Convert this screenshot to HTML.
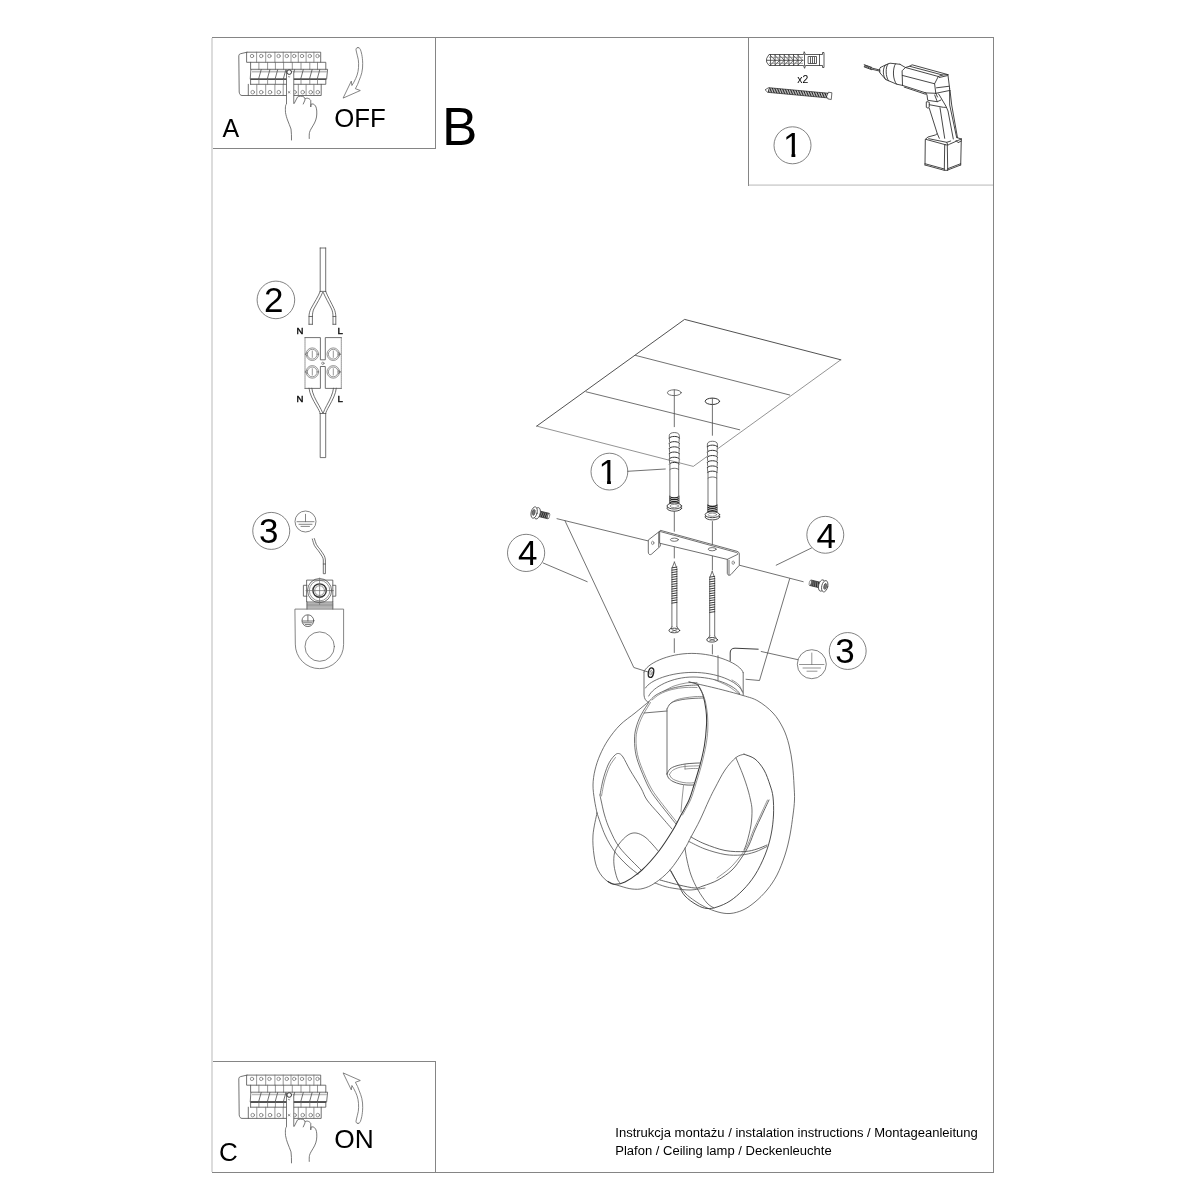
<!DOCTYPE html>
<html><head><meta charset="utf-8"><title>Instrukcja monta&#380;u</title>
<style>
html,body{margin:0;padding:0;background:#fff;}
body{width:1200px;height:1200px;overflow:hidden;font-family:"Liberation Sans",sans-serif;}
svg{display:block;position:absolute;left:0;top:0;will-change:transform;}
svg text{font-family:"Liberation Sans",sans-serif;fill:#000;}
.f{fill:none;stroke:#858585;stroke-width:1;shape-rendering:crispEdges;}
.l{fill:none;stroke:#4e4e4e;stroke-width:0.8;stroke-linecap:round;stroke-linejoin:round;}
.t{fill:none;stroke:#6a6a6a;stroke-width:0.7;stroke-linecap:round;stroke-linejoin:round;}
.k{fill:none;stroke:#222;stroke-width:1.1;stroke-linecap:round;stroke-linejoin:round;}
.w{fill:#fff;stroke:#4a4a4a;stroke-width:0.8;stroke-linecap:round;stroke-linejoin:round;}
.c{fill:none;stroke:#6c6c6c;stroke-width:0.85;}
</style></head><body>
<svg width="1200" height="1200" viewBox="0 0 1200 1200">
<!-- 00_frame.svg -->
<g class="f" stroke="#858585">
<path d="M212 37.5H993.500V1172.500H212"/>
<path d="M212.5 148.5H435.5V37.5"/>
<path d="M748.5 37.5V185.500"/>
<path d="M212.5 1061.500H435.5V1172.5"/>
</g>
<g fill="none" stroke="#d6d6d6" stroke-width="1.700">
<path d="M212 37.900V1172.100"/>
<path d="M748.900 185.050H993"/>
</g>
<g>
<text x="441.900" y="145.200" font-size="53">B</text>
<text x="222.600" y="136.750" font-size="25">A</text>
<text x="334.300" y="126.550" font-size="25.800">OFF</text>
<text x="218.900" y="1160.900" font-size="26">C</text>
<text x="334.300" y="1148.450" font-size="26.300">ON</text>
<text x="615.300" y="1136.900" font-size="13.030">Instrukcja montażu / instalation instructions / Montageanleitung</text>
<text x="615.300" y="1154.700" font-size="13.030">Plafon / Ceiling lamp / Deckenleuchte</text>
</g>

<!-- 05_digits.svg -->
<g class="c" stroke="#777" stroke-width="0.9">
<circle cx="792.50" cy="145.30" r="18.50"/>
<circle cx="275.90" cy="299.90" r="18.80"/>
<circle cx="271.25" cy="530.90" r="18.50"/>
<circle cx="609.40" cy="471.60" r="18.40"/>
<circle cx="526.10" cy="552.90" r="18.60"/>
<circle cx="825.30" cy="534.80" r="18.45"/>
<circle cx="847.70" cy="651.00" r="18.45"/>
</g>
<g font-size="35">
<text x="783.00" y="156.90">1</text>
<text x="264.10" y="311.90">2</text>
<text x="258.90" y="543.00">3</text>
<text x="598.60" y="484.00">1</text>
<text x="518.00" y="565.00">4</text>
<text x="816.60" y="547.50">4</text>
<text x="835.20" y="663.30">3</text>
</g>
<g fill="#fff" stroke="none"><!-- hide the serif foot of digit one so it matches the plain sans one of the original -->
<rect x="783.45" y="153.93" width="8.00" height="5"/>
<rect x="795.32" y="153.93" width="7.50" height="5"/>
<rect x="599.05" y="481.02" width="8.00" height="5"/>
<rect x="610.92" y="481.02" width="7.50" height="5"/>
</g>

<!-- 10_boxA.svg -->
<g>
<path class="l" d="M247.0 52.2H320.7V62.3H247.0Z"/>
<path class="t" d="M256.6 52.2V62.3M265.7 52.2V62.3M274.9 52.2V62.3M283.2 52.2V62.3M291.0 52.2V62.3M298.3 52.2V62.3M306.1 52.2V62.3M313.9 52.2V62.3"/>
<circle class="t" cx="252.0" cy="56" r="1.7"/>
<circle class="t" cx="261.2" cy="56" r="1.7"/>
<circle class="t" cx="269.4" cy="56" r="1.7"/>
<circle class="t" cx="278.6" cy="56" r="1.7"/>
<circle class="t" cx="286.8" cy="56" r="1.7"/>
<circle class="t" cx="294.2" cy="56" r="1.7"/>
<circle class="t" cx="302.0" cy="56" r="1.7"/>
<circle class="t" cx="309.8" cy="56" r="1.7"/>
<circle class="t" cx="317.5" cy="56" r="1.7"/>
<path class="l" d="M247 52.2L240.6 53.7Q238.8 54.2 238.8 55.800L239.200 92C239.400 94.300 240.500 95.500 242 95.500H248.300"/>
<path class="l" d="M250.6 62.3V69.3M320.7 62.3H325.8V69.3"/>
<path class="t" d="M258.9 62.3V69.3M267.6 62.3V69.3M275.4 62.3V69.3M283.6 62.3V69.3M292.3 62.3V69.3M301.0 62.3V69.3M309.8 62.3V69.3M317.5 62.3V69.3"/>
<path class="l" d="M251.3 69.3H327.6L326.6 79.2H250.6Z"/>
<path d="M252 71.6H327" stroke="#bbb" stroke-width="1.6" fill="none"/>
<path d="M250.6 79.1H326" stroke="#333" stroke-width="1.3" fill="none"/>
<path class="l" d="M258.6 79L261.2 69.6M267.3 79L269.9 69.6M275.1 79L277.7 69.6M283.3 79L285.9 69.6M292.0 79L294.6 69.6M300.7 79L303.3 69.6M309.5 79L312.1 69.6M317.2 79L319.8 69.6"/>
<path class="l" d="M250.6 79.2V84.3M325.8 79.2V84.3H250.6"/>
<path class="t" d="M258.9 79.2V84.3M267.6 79.2V84.3M275.4 79.2V84.3M283.6 79.2V84.3M292.3 79.2V84.3M301.0 79.2V84.3M309.8 79.2V84.3M317.5 79.2V84.3"/>
<path class="l" d="M248.3 84.3V95.5H321.2V84.3"/>
<path class="t" d="M256.8 84.3V95.5M265.7 84.3V95.5M274.9 84.3V95.5M283.2 84.3V95.5M291.0 84.3V95.5M298.3 84.3V95.5M306.1 84.3V95.5M313.9 84.3V95.5"/>
<circle class="t" cx="252.7" cy="92.2" r="1.8"/>
<circle class="t" cx="261.2" cy="92.2" r="1.8"/>
<circle class="t" cx="270.0" cy="92.2" r="1.8"/>
<circle class="t" cx="278.8" cy="92.2" r="1.8"/>
<circle class="t" cx="294.6" cy="92.2" r="1.8"/>
<circle class="t" cx="302.7" cy="92.2" r="1.8"/>
<circle class="t" cx="310.7" cy="92.2" r="1.8"/>
<circle class="t" cx="317.8" cy="92.2" r="1.8"/>
<path fill="#fff" stroke="none" d="M286.5 70.5V104C285.3 104.5 285.3 108 285.5 112.5C286 115.5 286.8 118 287.5 120C288.6 123 290 126 291 129C291.5 132.5 291.5 136.5 291.5 140L309.25 138.5C309.2 136 309.2 134 309.5 132.5C310 131 310.4 130 311 129C312.3 126.7 313.5 125 314.5 123C315.5 121 316.2 119 316.5 117C316.8 115 316.9 113 316.75 111C316.6 109.5 316.4 108 316 107C315.2 105.2 314.2 104.3 313 104C312.2 103.9 311.5 104 311 104.25L310.75 107V100.5C310.2 99.4 309 98.5 307.5 98.25C306.7 98.2 306 98.3 305.5 98.5L305 100C305 98.5 304.6 97.5 304 97C302 95.8 299 96 297.5 97L294.2 103.5H293.75V72Z"/>
<path style="stroke:#555" class="l" d="M286.5 70.5V104C285.3 104.5 285.3 108 285.5 112.5C286 115.5 286.8 118 287.5 120C288.6 123 290 126 291 129C291.5 132.5 291.5 136.5 291.5 140M309.25 138.5C309.2 136 309.2 134 309.5 132.5C310 131 310.4 130 311 129C312.3 126.7 313.5 125 314.5 123C315.5 121 316.2 119 316.5 117C316.8 115 316.9 113 316.75 111C316.6 109.5 316.4 108 316 107C315.2 105.2 314.2 104.3 313 104C312.2 103.9 311.5 104 311 104.25L310.75 107V100.5C310.2 99.4 309 98.5 307.5 98.25C306.7 98.2 306 98.3 305.5 98.5M303.25 104L305 100C305 98.5 304.6 97.5 304 97C302 95.8 299 96 297.5 97L294.2 103.5H293.75V72"/>
<circle cx="289.2" cy="72.1" r="2.3" fill="#fff" stroke="#333" stroke-width="1"/>
<path class="t" d="M288.3 76.5L289.1 77.2L289.9 76.5M288.2 91.500L290 93M290 91.500L288.200 93"/>
<path style="stroke:#666" class="l" d="M358 47.6C356.6 47.6 355.8 48.5 356 49.9C356.4 52 357 54 357.4 55.8C358.2 58.5 358.6 61 358.6 63.3C358.7 66.500 358.500 69 358 71.500C357.500 74 356.800 76.400 355.700 78.500C354.600 81 353.200 83.500 351.900 85.500L351.300 81.100L343.100 98.100L360.300 90.500L355.400 88.700C357 86 358.300 83 359.200 80.300C360.300 77.500 361.300 75 361.800 72.700C362.500 69.500 362.800 66.500 362.700 63.300C362.600 60 362.300 57 361.800 54.600C361.400 52.500 360.900 50.800 360.300 49.300C359.800 48.200 359 47.600 358 47.600Z"/>
</g>

<!-- 11_boxC.svg -->
<g transform="translate(0 1022.900)">
<path class="l" d="M247.0 52.2H320.7V62.3H247.0Z"/>
<path class="t" d="M256.6 52.2V62.3M265.7 52.2V62.3M274.9 52.2V62.3M283.2 52.2V62.3M291.0 52.2V62.3M298.3 52.2V62.3M306.1 52.2V62.3M313.9 52.2V62.3"/>
<circle class="t" cx="252.0" cy="56" r="1.7"/>
<circle class="t" cx="261.2" cy="56" r="1.7"/>
<circle class="t" cx="269.4" cy="56" r="1.7"/>
<circle class="t" cx="278.6" cy="56" r="1.7"/>
<circle class="t" cx="286.8" cy="56" r="1.7"/>
<circle class="t" cx="294.2" cy="56" r="1.7"/>
<circle class="t" cx="302.0" cy="56" r="1.7"/>
<circle class="t" cx="309.8" cy="56" r="1.7"/>
<circle class="t" cx="317.5" cy="56" r="1.7"/>
<path class="l" d="M247 52.2L240.6 53.7Q238.8 54.2 238.8 55.800L239.200 92C239.400 94.300 240.500 95.500 242 95.500H248.300"/>
<path class="l" d="M250.6 62.3V69.3M320.7 62.3H325.8V69.3"/>
<path class="t" d="M258.9 62.3V69.3M267.6 62.3V69.3M275.4 62.3V69.3M283.6 62.3V69.3M292.3 62.3V69.3M301.0 62.3V69.3M309.8 62.3V69.3M317.5 62.3V69.3"/>
<path class="l" d="M251.3 69.3H327.6L326.6 79.2H250.6Z"/>
<path d="M252 71.6H327" stroke="#bbb" stroke-width="1.6" fill="none"/>
<path d="M250.6 79.1H326" stroke="#333" stroke-width="1.3" fill="none"/>
<path class="l" d="M258.6 79L261.2 69.6M267.3 79L269.9 69.6M275.1 79L277.7 69.6M283.3 79L285.9 69.6M292.0 79L294.6 69.6M300.7 79L303.3 69.6M309.5 79L312.1 69.6M317.2 79L319.8 69.6"/>
<path class="l" d="M250.6 79.2V84.3M325.8 79.2V84.3H250.6"/>
<path class="t" d="M258.9 79.2V84.3M267.6 79.2V84.3M275.4 79.2V84.3M283.6 79.2V84.3M292.3 79.2V84.3M301.0 79.2V84.3M309.8 79.2V84.3M317.5 79.2V84.3"/>
<path class="l" d="M248.3 84.3V95.5H321.2V84.3"/>
<path class="t" d="M256.8 84.3V95.5M265.7 84.3V95.5M274.9 84.3V95.5M283.2 84.3V95.5M291.0 84.3V95.5M298.3 84.3V95.5M306.1 84.3V95.5M313.9 84.3V95.5"/>
<circle class="t" cx="252.7" cy="92.2" r="1.8"/>
<circle class="t" cx="261.2" cy="92.2" r="1.8"/>
<circle class="t" cx="270.0" cy="92.2" r="1.8"/>
<circle class="t" cx="278.8" cy="92.2" r="1.8"/>
<circle class="t" cx="294.6" cy="92.2" r="1.8"/>
<circle class="t" cx="302.7" cy="92.2" r="1.8"/>
<circle class="t" cx="310.7" cy="92.2" r="1.8"/>
<circle class="t" cx="317.8" cy="92.2" r="1.8"/>
<path fill="#fff" stroke="none" d="M286.5 70.5V104C285.3 104.5 285.3 108 285.5 112.5C286 115.5 286.8 118 287.5 120C288.6 123 290 126 291 129C291.5 132.5 291.5 136.5 291.5 140L309.25 138.5C309.2 136 309.2 134 309.5 132.5C310 131 310.4 130 311 129C312.3 126.7 313.5 125 314.5 123C315.5 121 316.2 119 316.5 117C316.8 115 316.9 113 316.75 111C316.6 109.5 316.4 108 316 107C315.2 105.2 314.2 104.3 313 104C312.2 103.9 311.5 104 311 104.25L310.75 107V100.5C310.2 99.4 309 98.5 307.5 98.25C306.7 98.2 306 98.3 305.5 98.5L305 100C305 98.5 304.6 97.5 304 97C302 95.8 299 96 297.5 97L294.2 103.5H293.75V72Z"/>
<path style="stroke:#555" class="l" d="M286.5 70.5V104C285.3 104.5 285.3 108 285.5 112.5C286 115.5 286.8 118 287.5 120C288.6 123 290 126 291 129C291.5 132.5 291.5 136.5 291.5 140M309.25 138.5C309.2 136 309.2 134 309.5 132.5C310 131 310.4 130 311 129C312.3 126.7 313.5 125 314.5 123C315.5 121 316.2 119 316.5 117C316.8 115 316.9 113 316.75 111C316.6 109.5 316.4 108 316 107C315.2 105.2 314.2 104.3 313 104C312.2 103.9 311.5 104 311 104.25L310.75 107V100.5C310.2 99.4 309 98.5 307.5 98.25C306.7 98.2 306 98.3 305.5 98.5M303.25 104L305 100C305 98.5 304.6 97.5 304 97C302 95.8 299 96 297.5 97L294.2 103.5H293.75V72"/>
<circle cx="289.2" cy="72.1" r="2.3" fill="#fff" stroke="#333" stroke-width="1"/>
<path class="t" d="M288.3 76.5L289.1 77.2L289.9 76.5M288.2 91.500L290 93M290 91.500L288.200 93"/>
</g>
<g transform="translate(0 1171) scale(1 -1)"><path style="stroke:#666" class="l" d="M358 47.6C356.6 47.6 355.8 48.5 356 49.9C356.4 52 357 54 357.4 55.8C358.2 58.5 358.6 61 358.6 63.3C358.7 66.500 358.500 69 358 71.500C357.500 74 356.800 76.400 355.700 78.500C354.600 81 353.200 83.500 351.900 85.500L351.300 81.100L343.100 98.100L360.300 90.500L355.400 88.700C357 86 358.300 83 359.200 80.300C360.300 77.500 361.300 75 361.800 72.700C362.500 69.500 362.800 66.500 362.700 63.300C362.600 60 362.300 57 361.800 54.600C361.400 52.500 360.900 50.800 360.300 49.300C359.800 48.200 359 47.600 358 47.600Z"/></g>

<!-- 20_box1.svg -->
<g>
<path style="stroke:#333;stroke-width:0.9" class="k" d="M864.2 64.7L871.7 67.4M864.2 66.9L871.7 69.7M871.7 68L880 70.1M871.7 69.2L880 71.2M880.4 67.5C879 69 879 71.5 880 72.900M880.4 67.5L885 65.2L890 63.200L900 64.300M880 72.900L885.800 79.600L896.700 84.200L902.500 85.400M885.5 65C882.500 68 882.500 76 885.800 79.600M888 63.800C885.400 67 885.400 76.500 888.500 80.800M895.5 63.800C892.500 68 892.500 80 896.700 84.200M900 64.300L905.400 67.500L902.100 70.800L902.500 85.400M905.400 67.500L909.600 66.250L912.100 64.800L947.900 74.600M909.600 66.250L942.500 75M905.400 67.500L938.300 76.500M902.300 75.400L934.600 83.750M902.500 85.400L925.800 92.900M904.200 87.100L925.400 94.200M938.300 76.500L942.500 75L947.900 74.600M938.300 76.500L934.600 83.750L935.800 93.300M939.300 77.500L947.500 75.600M947.900 74.600L949.600 88.300M935.800 93.300L950 90.400M936.500 87.800L949.200 86.250M925.800 92.900L935.800 93.300M925.800 92.900L927 95L927.700 100.300L937.300 101.700L941 100M934.700 95L937.300 101.700M935.800 93.300L937.500 97M938.300 93.750L939.300 95L946 106.300L948 111L953.300 139M929.300 104.700L943.300 107.300L946 107.300M926.3 102.3V107.3L928 108.2L929.2 107.3L929.3 102.3L927.300 101.700ZM929.300 108.300L937.300 133.700L935.300 135L928 137L925.700 139M940 107.700L944.700 138.300M949.600 88.300L949.700 105L956.700 137.700M950 90.400L951.700 105L957.500 137.700M937.300 133.700L939.300 138.300M925.700 139.300L945.300 144.700M945.300 144.700C947 145.200 948.500 145 949.300 144.300L961.300 139M957.300 137.700L961.300 139M928.700 138.700L946.700 142.300L950.700 141M946.700 142.300L947.800 144.800M956 140.300L958 142.700L961.300 141M925.300 139.700L925 165M944.700 145L944.300 170.300M947.300 145L947.700 170M961.300 139L960.700 165M925 163.700L944.300 169M925 165L944.300 170.300H947.700M947.700 168.700L960.700 163.700M947.700 170L960.700 165"/>
<path d="M864.4 65.7L871.4 68.4" stroke="#444" stroke-width="2.300" stroke-dasharray="1.500 0.500" fill="none"/>
<path style="stroke:#333;stroke-width:0.8" class="k" d="M766.8 58.2L769 54.5H803.5L804.2 51.7L805.500 54.500H822.500V52.500H824V67.500H822.500V65.500H805.500L804.600 68.300L803.500 65.500H769L766.800 62.300ZM766.800 60.300H803M804.500 54.500V65.500M819.500 54.500V65.500M808.500 56.500H816.500V63.500H808.500ZM810.500 57.500V63M812.500 57.500V63M814.500 57.500V63"/>
<path style="stroke:#3a3a3a;stroke-width:0.75" class="k" d="M770.5 54.5V65.5M770.5 55.500L775.1 60.300L770.5 65M775.1 54.5V65.5M775.1 55.500L779.7 60.300L775.1 65M779.7 54.5V65.5M779.7 55.500L784.3 60.300L779.7 65M784.3 54.5V65.5M784.3 55.500L788.9 60.300L784.3 65M788.9 54.5V65.5M788.9 55.500L793.5 60.300L788.9 65M793.5 54.5V65.5M793.5 55.500L798.1 60.300L793.5 65M798.1 54.5V65.5M798.1 55.500L802.7 60.300L798.1 65"/>
<path d="M769 57.300H803M769 63.300H803" stroke="#777" stroke-width="0.7" fill="none"/>
<text x="797.300" y="82.600" font-size="10.4">x2</text>
<g transform="translate(765.4 89.600) rotate(5.300)"><path style="stroke:#333;stroke-width:0.7" class="k" d="M0 0L3 -2.2H63V-3.2L66.500 -3V3.800L63 3.500V2.500H3Z"/><path d="M3.0 2.6L3.9 -2.3M4.6 2.6L5.5 -2.3M6.2 2.6L7.1 -2.3M7.9 2.6L8.8 -2.3M9.5 2.6L10.4 -2.3M11.1 2.6L12.0 -2.3M12.7 2.6L13.6 -2.3M14.3 2.6L15.2 -2.3M16.0 2.6L16.9 -2.3M17.6 2.6L18.5 -2.3M19.2 2.6L20.1 -2.3M20.8 2.6L21.7 -2.3M22.4 2.6L23.3 -2.3M24.1 2.6L25.0 -2.3M25.7 2.6L26.6 -2.3M27.3 2.6L28.2 -2.3M28.9 2.6L29.8 -2.3M30.5 2.6L31.4 -2.3M32.2 2.6L33.1 -2.3M33.8 2.6L34.7 -2.3M35.4 2.6L36.3 -2.3M37.0 2.6L37.9 -2.3M38.6 2.6L39.5 -2.3M40.3 2.6L41.2 -2.3M41.9 2.6L42.8 -2.3M43.5 2.6L44.4 -2.3M45.1 2.6L46.0 -2.3M46.7 2.6L47.6 -2.3M48.4 2.6L49.3 -2.3M50.0 2.6L50.9 -2.3M51.6 2.6L52.5 -2.3M53.2 2.6L54.1 -2.3M54.8 2.6L55.7 -2.3M56.5 2.6L57.4 -2.3M58.1 2.6L59.0 -2.3M59.7 2.6L60.6 -2.3M61.3 2.6L62.2 -2.3" stroke="#222" stroke-width="0.95" fill="none"/></g>
</g>

<!-- 30_sec2.svg -->
<g>
<!-- top cable -->
<path class="l" d="M320.2 248V291.400M325.700 248V291.400M320.200 248H325.700"/>
<path class="l" d="M320.2 291.4H325.7"/>
<path class="l" d="M320.2 291.4C318.500 296 314 303 311 308.500C309.500 311.500 309 314 309 317V324.300M322.600 292.500C320.800 297 316.500 304 313.800 309C312.700 311.500 312.400 314 312.400 317V324.300M309 324.300H312.400M309 316.500H312.400"/>
<path class="l" d="M325.700 291.400C327.400 296 331.500 303 334 308.500C335.300 311.500 335.800 314 335.800 317V324.300M323.300 292.500C325.100 297 329.200 304 331.600 309C332.700 311.500 333 314 333 317V324.300M333 324.300H335.800M333 316.500H335.800"/>
<!-- terminal block -->
<path class="l" d="M305 337.600H320.400V359.800H325.300V337.600H341.300M341.300 388.400H325.300V366.500H320.400V388.400H305"/>
<path style="stroke-dasharray:1.2 0.8" class="t" d="M305 337.600V388.400M341.300 337.600V388.400"/>
<circle class="t" cx="322.850" cy="363.300" r="1.200"/>
<g class="t" stroke="#555">
<circle cx="312.300" cy="354.200" r="6.300"/><circle cx="312.300" cy="354.200" r="4.900"/><path d="M312.300 351V357.400"/>
<circle cx="333.300" cy="354.200" r="6.300"/><circle cx="333.300" cy="354.200" r="4.900"/><path d="M333.300 351V357.400"/>
<circle cx="312.300" cy="371.900" r="6.300"/><circle cx="312.300" cy="371.900" r="4.900"/><path d="M312.300 368.700V375.100"/>
<circle cx="333.300" cy="371.900" r="6.300"/><circle cx="333.300" cy="371.900" r="4.900"/><path d="M333.300 368.700V375.100"/>
</g>
<path class="t" d="M305.200 354.200L307.500 352.500M305.200 354.200L307.500 356M340.600 354.200L338.300 352.500M340.600 354.200L338.300 356M305.200 371.900L307.500 370.200M305.200 371.900L307.500 373.600M340.600 371.900L338.300 370.200M340.600 371.900L338.300 373.600"/>
<!-- bottom wires -->
<path class="l" d="M309 388.200C309.500 394 313 400 316.500 406C318.500 409.500 320 412 320.200 413.500M311.800 388.200C312.300 393.500 315.500 399.500 319 405.500C320.500 408.200 322 411 322.700 412.800M336.300 388.200C335.800 394 332.500 400 329.200 406C327.200 409.500 325.900 412 325.700 413.500M333.500 388.200C333 393.500 330 399.500 326.700 405.500C325.200 408.200 323.900 411 323.300 412.800"/>
<path class="l" d="M320.200 413.500H325.700M320.200 413.500V457.600H325.700V413.500"/>
<g font-size="9.600" style="fill:#1a1a1a;stroke:#1a1a1a;stroke-width:0.45">
<text x="296.500" y="334.300">N</text>
<text x="337.400" y="334.300">L</text>
<text x="296.500" y="401.800">N</text>
<text x="337.400" y="401.800">L</text>
</g>
</g>

<!-- 31_sec3.svg -->
<g>
<!-- ground symbol -->
<circle class="c" cx="305.500" cy="521.500" r="10.500"/>
<path style="stroke:#666" class="l" d="M305.500 514.300V521.700M297 521.700H314M299 524.300H312M301 526.400H309.500"/>
<!-- wire -->
<path class="l" d="M312.300 539C313 541.500 313.600 543.500 314.300 545.300C315.500 547.500 316.900 549 318.300 550.700C319.800 552.800 321.200 554.800 322.300 556.700C322.900 557.800 323.300 559 323.300 560V573.700H325.400V560C325.300 558.500 324.900 557 324.300 555.700C323.200 553.800 321.800 551.800 320.300 549.700C318.900 548 317.500 546.500 316.300 544.300C315.600 542.500 315 540.500 314.300 538.500"/>
<path class="l" d="M323.300 564H325.400"/>
<!-- terminal -->
<rect class="l" x="307" y="580.100" width="25.800" height="21.900"/>
<path class="l" d="M307 585.300H303.400V596.200H307M332.800 585.300H335.800V596.200H332.800"/>
<circle class="l" cx="319.600" cy="590.600" r="12.100"/>
<circle class="t" cx="319.600" cy="590.600" r="10.300"/>
<circle cx="319.600" cy="590.600" r="6.700" fill="none" stroke="#333" stroke-width="1.400"/>
<circle class="t" cx="319.600" cy="590.600" r="4.900"/>
<path class="t" d="M319.600 578V604.500M306 590.600H333.500"/>
<path class="l" d="M307 602V609.100M332.800 602V609.100"/>
<path class="t" d="M307 603.200H332.800M307 604.400H332.800M307 605.600H332.800M307 606.800H332.800M307 608H332.800"/>
<!-- body -->
<path style="stroke:#666;stroke-width:0.8" class="t" d="M295.300 609.100H343.600V644.500A24.150 24.150 0 0 1 295.300 644.500Z"/>
<circle style="stroke:#666;stroke-width:0.8" class="t" cx="319.700" cy="646.600" r="14.700"/>
<circle class="l" cx="307.900" cy="620.700" r="5.900"/>
<path class="l" d="M307.900 615.500V621M302.300 621H313.500M303.500 622.800H312.300M305.300 624.600H310.500"/>
</g>

<!-- 40_main.svg -->
<g>
<path style="stroke:#484848;stroke-width:0.95" class="l" d="M536.7 426.1L684.6 319.400L840.800 359.800"/>
<path style="stroke:#707070;stroke-width:0.75" class="t" d="M840.800 359.800L717.800 448.700M707 456.500L693.300 466.400L536.700 426.100"/>
<path class="l" d="M635.500 355.400L789.700 395M586.100 391.800L739.700 429.800"/>
<ellipse class="l" cx="674.300" cy="392.700" rx="6.900" ry="2.900"/>
<ellipse style="stroke:#333;stroke-width:1" class="k" cx="712.400" cy="401.300" rx="7.200" ry="3.200"/>
<path class="l" d="M674.300 389.800V426.700M712.400 398.300V435.300M674.300 511.300V531.300M674.300 540V558M674.300 638.700V652.500M712.400 521.500V546.700M712.400 549.500V570M712.400 644.700V654"/>
<path class="l" d="M669.3 438.0V435.4C669.3 431.6 679.3 431.6 679.3 435.4V438.0"/>
<path class="l" d="M669.3 438.0L669.6 442.0M679.3 438.0L679.0 442.0"/>
<path style="stroke:#333;stroke-width:1" class="k" d="M669.3 438.0C670.3 435.8 678.3 435.8 679.3 438.0"/>
<path class="l" d="M669.3 443.2L669.6 447.2M679.3 443.2L679.0 447.2"/>
<path style="stroke:#333;stroke-width:1" class="k" d="M669.3 443.2C670.3 441.0 678.3 441.0 679.3 443.2"/>
<path class="l" d="M669.3 448.4L669.6 452.4M679.3 448.4L679.0 452.4"/>
<path style="stroke:#333;stroke-width:1" class="k" d="M669.3 448.4C670.3 446.2 678.3 446.2 679.3 448.4"/>
<path class="l" d="M669.3 453.6L669.6 457.6M679.3 453.6L679.0 457.6"/>
<path style="stroke:#333;stroke-width:1" class="k" d="M669.3 453.6C670.3 451.4 678.3 451.4 679.3 453.6"/>
<path class="l" d="M669.3 458.8L669.6 462.8M679.3 458.8L679.0 462.8"/>
<path style="stroke:#333;stroke-width:1" class="k" d="M669.3 458.8C670.3 456.6 678.3 456.6 679.3 458.8"/>
<path style="stroke:#333;stroke-width:1" class="k" d="M669.3 464.0C670.3 461.8 678.3 461.8 679.3 464.0"/>
<path class="l" d="M669.9 464.0V496.0M678.7 464.0V496.0"/>
<path class="l" d="M669.9 469.5C671.3 467.8 677.3 467.8 678.7 469.5"/>
<path d="M669.7 496.6C671.3 498.2 677.3 498.2 678.9 496.6" stroke="#222" stroke-width="1.300" fill="none"/>
<path d="M669.7 498.5C671.3 500.1 677.3 500.1 678.9 498.5" stroke="#222" stroke-width="1.300" fill="none"/>
<path d="M669.7 500.4C671.3 502.0 677.3 502.0 678.9 500.4" stroke="#222" stroke-width="1.300" fill="none"/>
<path d="M669.7 502.3C671.3 503.9 677.3 503.9 678.9 502.3" stroke="#222" stroke-width="1.300" fill="none"/>
<path class="l" d="M669.5 496.0V504.0M679.1 496.0V504.0"/>
<ellipse style="stroke:#333;stroke-width:0.9;fill:#fff" class="k" cx="674.3" cy="508.2" rx="7.3" ry="3"/>
<ellipse style="stroke:#333;stroke-width:0.9;fill:#fff" class="k" cx="674.3" cy="506.0" rx="7.3" ry="3"/>
<ellipse class="t" cx="674.3" cy="506.0" rx="4.3" ry="1.6"/>
<path class="l" d="M707.4 446.7V444.1C707.4 440.3 717.4 440.3 717.4 444.1V446.7"/>
<path class="l" d="M707.4 446.7L707.7 450.7M717.4 446.7L717.1 450.7"/>
<path style="stroke:#333;stroke-width:1" class="k" d="M707.4 446.7C708.4 444.5 716.4 444.5 717.4 446.7"/>
<path class="l" d="M707.4 451.9L707.7 455.9M717.4 451.9L717.1 455.9"/>
<path style="stroke:#333;stroke-width:1" class="k" d="M707.4 451.9C708.4 449.7 716.4 449.7 717.4 451.9"/>
<path class="l" d="M707.4 457.1L707.7 461.1M717.4 457.1L717.1 461.1"/>
<path style="stroke:#333;stroke-width:1" class="k" d="M707.4 457.1C708.4 454.9 716.4 454.9 717.4 457.1"/>
<path class="l" d="M707.4 462.3L707.7 466.3M717.4 462.3L717.1 466.3"/>
<path style="stroke:#333;stroke-width:1" class="k" d="M707.4 462.3C708.4 460.1 716.4 460.1 717.4 462.3"/>
<path class="l" d="M707.4 467.5L707.7 471.5M717.4 467.5L717.1 471.5"/>
<path style="stroke:#333;stroke-width:1" class="k" d="M707.4 467.5C708.4 465.3 716.4 465.3 717.4 467.5"/>
<path style="stroke:#333;stroke-width:1" class="k" d="M707.4 472.7C708.4 470.5 716.4 470.5 717.4 472.7"/>
<path class="l" d="M708.0 472.7V504.7M716.8 472.7V504.7"/>
<path class="l" d="M708.0 478.2C709.4 476.5 715.4 476.5 716.8 478.2"/>
<path d="M707.8 505.3C709.4 506.9 715.4 506.9 717.0 505.3" stroke="#222" stroke-width="1.300" fill="none"/>
<path d="M707.8 507.2C709.4 508.8 715.4 508.8 717.0 507.2" stroke="#222" stroke-width="1.300" fill="none"/>
<path d="M707.8 509.1C709.4 510.7 715.4 510.7 717.0 509.1" stroke="#222" stroke-width="1.300" fill="none"/>
<path d="M707.8 511.0C709.4 512.6 715.4 512.6 717.0 511.0" stroke="#222" stroke-width="1.300" fill="none"/>
<path class="l" d="M707.6 504.7V512.7M717.2 504.7V512.7"/>
<ellipse style="stroke:#333;stroke-width:0.9;fill:#fff" class="k" cx="712.4" cy="516.9" rx="7.3" ry="3"/>
<ellipse style="stroke:#333;stroke-width:0.9;fill:#fff" class="k" cx="712.4" cy="514.7" rx="7.3" ry="3"/>
<ellipse class="t" cx="712.4" cy="514.7" rx="4.3" ry="1.6"/>
<path class="l" d="M627.600 471.300L665.300 469"/>
<path class="w" d="M660 531L648.300 540V552C648.300 554.500 650 555.300 651.600 554.100L660 546.500Z"/>
<path class="l" d="M658.700 532.200V546.800"/>
<ellipse class="t" cx="652.700" cy="542.900" rx="1.200" ry="1.700"/>
<path class="w" d="M660 531L660.700 530.400L737 551.300C738.500 551.800 739.300 552.600 739.300 554L739.300 565.300L731 574.500C729.300 576 727.300 575.200 727.300 573V559.400L660 543.300Z"/>
<path class="l" d="M660.500 531.600L736.500 552.500C737.600 552.900 738 553.500 737.800 554.300L727.300 559.400"/>
<path class="l" d="M729 560.300V574.800"/>
<ellipse class="t" cx="733.200" cy="562.700" rx="1.200" ry="1.700"/>
<ellipse class="l" cx="674.400" cy="539.700" rx="4" ry="1.600"/>
<ellipse class="l" cx="712.200" cy="549.200" rx="4" ry="1.600"/>
<path class="l" d="M557 518.700L647.700 540.800M739.700 565.300L803.200 581.700"/>
<g transform="translate(535.6 512.9) rotate(13.7)">
<path d="M3.6 -2.8H13.4V2.800H3.6Z" fill="#8a8a8a" stroke="#444" stroke-width="0.8"/>
<path d="M5.4 -2.7L4.5 2.7M7.3 -2.7L6.4 2.7M9.2 -2.7L8.3 2.7M11.1 -2.7L10.2 2.7M13.0 -2.7L12.1 2.7" stroke="#2a2a2a" stroke-width="1" fill="none"/>
<ellipse cx="13.4" cy="0" rx="1" ry="2.700" fill="#fff" stroke="#555" stroke-width="0.600"/>
<ellipse style="stroke:#444;stroke-width:0.8;fill:#fff" class="k" cx="1.7" cy="0" rx="3" ry="5.800"/>
<ellipse style="stroke:#444;stroke-width:0.8;fill:#fff" class="k" cx="-1.5" cy="0" rx="3" ry="5.800"/>
<ellipse cx="-2.0" cy="0" rx="1.400" ry="3" fill="#777" stroke="#444" stroke-width="0.700"/>
</g>
<g transform="translate(823.3 585.9) rotate(13.7)">
<path d="M-3.6 -2.8H-13.4V2.800H-3.6Z" fill="#8a8a8a" stroke="#444" stroke-width="0.8"/>
<path d="M-5.4 -2.7L-4.5 2.7M-7.3 -2.7L-6.4 2.7M-9.2 -2.7L-8.3 2.7M-11.1 -2.7L-10.2 2.7M-13.0 -2.7L-12.1 2.7" stroke="#2a2a2a" stroke-width="1" fill="none"/>
<ellipse cx="-13.4" cy="0" rx="1" ry="2.700" fill="#fff" stroke="#555" stroke-width="0.600"/>
<ellipse style="stroke:#444;stroke-width:0.8;fill:#fff" class="k" cx="-1.7" cy="0" rx="3" ry="5.800"/>
<ellipse style="stroke:#444;stroke-width:0.8;fill:#fff" class="k" cx="1.5" cy="0" rx="3" ry="5.800"/>
<ellipse cx="2.0" cy="0" rx="1.400" ry="3" fill="#777" stroke="#444" stroke-width="0.700"/>
</g>
<path class="l" d="M674.4 562.0L671.9 568.5V626.7M674.4 562.0L676.9 568.5V626.7"/>
<path d="M671.5 567.9L677.3 567.0M671.5 570.2L677.3 569.4M671.5 572.6L677.3 571.7M671.5 575.0L677.3 574.1M671.5 577.3L677.3 576.4M671.5 579.7L677.3 578.8M671.5 582.0L677.3 581.1M671.5 584.4L677.3 583.5M671.5 586.7L677.3 585.8M671.5 589.1L677.3 588.2M671.5 591.4L677.3 590.5M671.5 593.8L677.3 592.9M671.5 596.1L677.3 595.2M671.5 598.5L677.3 597.6M671.5 600.8L677.3 599.9M671.5 603.2L677.3 602.3" stroke="#333" stroke-width="0.95" fill="none"/>
<path class="l" d="M671.9 626.7L669.2 630.5M676.9 626.7L679.6 630.5"/>
<ellipse style="stroke:#333;stroke-width:0.85;fill:#fff" class="k" cx="674.4" cy="630.5" rx="5.3" ry="2.3"/>
<path style="stroke:#444" class="t" d="M671.9 629.6L676.9 631.4M671.9 631.4L676.9 629.6"/>
<path class="l" d="M712.2 571.3L709.7 577.8V636.0M712.2 571.3L714.7 577.8V636.0"/>
<path d="M709.3 577.2L715.1 576.3M709.3 579.5L715.1 578.6M709.3 581.9L715.1 581.0M709.3 584.2L715.1 583.4M709.3 586.6L715.1 585.7M709.3 589.0L715.1 588.1M709.3 591.3L715.1 590.4M709.3 593.7L715.1 592.8M709.3 596.0L715.1 595.1M709.3 598.4L715.1 597.5M709.3 600.7L715.1 599.8M709.3 603.1L715.1 602.2M709.3 605.4L715.1 604.5M709.3 607.8L715.1 606.9M709.3 610.1L715.1 609.2M709.3 612.5L715.1 611.6" stroke="#333" stroke-width="0.95" fill="none"/>
<path class="l" d="M709.7 636.0L707.0 639.8M714.7 636.0L717.4 639.8"/>
<ellipse style="stroke:#333;stroke-width:0.85;fill:#fff" class="k" cx="712.2" cy="639.8" rx="5.3" ry="2.3"/>
<path style="stroke:#444" class="t" d="M709.7 638.9L714.7 640.7M709.7 640.7L714.7 638.9"/>
<path class="l" d="M565 520.800L633.800 667.500L649 672.300"/>
<path class="l" d="M543.200 563L587.200 581.700"/>
<path class="l" d="M811.500 548L776.200 565.200"/>
<path class="l" d="M789.700 578.700L759.500 680.500L746 679.300"/>
<path style="stroke:#333;stroke-width:0.95" class="k" d="M758.200 649.200L735 648.200C731.500 648.200 730.200 650 730.200 653V661"/>
<path class="l" d="M761.200 651.500L798 659.700"/>
<circle class="c" cx="811.800" cy="664.200" r="14.500"/>
<path style="stroke:#666" class="t" d="M811.800 653V664.500M799.500 664.500H824M803 668H820.500M807 671.200H817"/>
</g>

<!-- 50_lamp.svg -->
<g>
<path class="l" d="M644 672C646 664 668 653.400 691.800 653.400C716 653.400 741 664 743.200 672.700"/>
<path class="l" d="M644 672V695C644.300 698.500 645.500 700.500 647.500 701.800M743.200 672.700V695"/>
<path class="l" d="M645.500 688C650 680 671 672.400 693 672.400C716 672.400 738 681 742.300 691.500"/>
<path class="l" d="M648.700 696C653 687 672 677 693 677C714 677 735 685 739.700 693.700"/>
<path class="l" d="M718 655.700V679.700"/>
<ellipse cx="651" cy="672.700" rx="2.600" ry="4.800" fill="#fff" stroke="#222" stroke-width="1.300" transform="rotate(12 651 672.700)"/>
<ellipse class="t" cx="651" cy="672.700" rx="1.100" ry="2.300" transform="rotate(12 651 672.700)"/>
<path class="t"  d="M715.0 680.0C717.2 681.0 724.0 683.7 728.0 686.0C732.0 688.3 737.2 692.7 739.0 694.0"/>
<path class="t"  d="M732.0 680.0C733.2 680.8 737.2 682.8 739.0 685.0C740.8 687.2 742.3 691.7 743.0 693.0"/>
<path class="l"  d="M649.0 701.5C646.7 703.4 639.8 709.1 635.0 713.0C630.2 716.9 624.5 720.5 620.0 725.0C615.5 729.5 611.3 735.0 608.0 740.0C604.7 745.0 602.2 750.0 600.0 755.0C597.8 760.0 596.2 765.0 595.0 770.0C593.8 775.0 593.1 780.0 593.0 785.0C592.9 790.0 593.8 795.3 594.5 800.0C595.2 804.7 596.6 810.8 597.0 813.0"/>
<path class="l"  d="M597.0 813.0C598.3 816.7 602.0 828.5 605.0 835.0C608.0 841.5 611.3 847.0 615.0 852.0C618.7 857.0 623.2 861.3 627.0 865.0C630.8 868.7 636.2 872.5 638.0 874.0"/>
<path class="l"  d="M600.0 795.0C600.2 795.8 600.2 796.7 601.0 800.0C601.8 803.3 603.0 810.0 604.5 815.0C606.0 820.0 607.4 824.5 610.0 830.0C612.6 835.5 614.8 841.3 620.0 848.0C625.2 854.7 637.5 866.3 641.0 870.0"/>
<path class="l"  d="M600.0 795.0C600.5 792.5 601.7 785.0 603.0 780.0C604.3 775.0 606.2 769.0 608.0 765.0C609.8 761.0 612.2 757.9 614.0 756.0C615.8 754.1 617.0 753.3 618.5 753.5C620.0 753.7 621.1 754.2 623.0 757.0C624.9 759.8 627.0 764.8 630.0 770.0C633.0 775.2 638.2 783.0 641.0 788.0C643.8 793.0 644.0 795.7 647.0 800.0C650.0 804.3 654.8 809.2 659.0 814.0C663.2 818.8 669.8 826.5 672.0 829.0"/>
<path class="t"  d="M601.5 796.0C602.0 793.5 603.2 785.9 604.5 781.0C605.8 776.1 607.7 770.4 609.5 766.5C611.3 762.6 614.5 759.0 615.5 757.5"/>
<path class="l"  d="M649.0 702.0C647.7 704.2 643.2 710.7 641.0 715.0C638.8 719.3 637.1 723.8 636.0 728.0C634.9 732.2 634.5 735.5 634.5 740.0C634.5 744.5 634.9 750.0 636.0 755.0C637.1 760.0 638.8 764.5 641.0 770.0C643.2 775.5 646.3 783.0 649.0 788.0C651.7 793.0 652.5 794.0 657.0 800.0C661.5 806.0 672.8 820.0 676.0 824.0"/>
<path class="t"  d="M650.5 702.5C649.2 704.8 644.7 711.6 642.5 716.0C640.3 720.4 638.6 725.0 637.5 729.0C636.4 733.0 636.0 735.8 636.0 740.0C636.0 744.2 636.4 749.6 637.5 754.5C638.6 759.4 640.3 764.1 642.5 769.5C644.7 774.9 647.8 782.1 650.5 787.0C653.2 791.9 654.1 793.1 658.5 799.0C662.9 804.9 673.9 818.6 677.0 822.5"/>
<path style="stroke:#484848;stroke-width:0.85" class="k" d="M691.0 837.0C693.3 838.2 699.3 841.8 705.0 844.0C710.7 846.2 718.3 849.2 725.0 850.5C731.7 851.8 739.7 851.8 745.0 851.5C750.3 851.2 753.3 850.1 757.0 849.0C760.7 847.9 765.3 845.7 767.0 845.0"/>
<path class="l"  d="M689.0 841.5C691.7 842.8 699.0 846.8 705.0 849.0C711.0 851.2 719.0 853.5 725.0 854.5C731.0 855.5 736.0 855.4 741.0 855.0C746.0 854.6 750.7 853.4 755.0 852.0C759.3 850.6 765.0 847.4 767.0 846.5"/>
<path class="l"  d="M689.0 682.0C693.3 683.0 706.0 685.8 715.0 688.0C724.0 690.2 735.8 693.3 743.0 695.5C750.2 697.7 753.0 698.1 758.0 701.0C763.0 703.9 768.8 708.5 773.0 713.0C777.2 717.5 780.3 722.7 783.0 728.0C785.7 733.3 787.4 738.8 789.0 745.0C790.6 751.2 791.7 758.3 792.5 765.0C793.3 771.7 793.7 779.2 794.0 785.0C794.3 790.8 794.7 795.0 794.5 800.0C794.3 805.0 793.8 809.2 793.0 815.0C792.2 820.8 791.3 828.3 790.0 835.0C788.7 841.7 787.2 848.3 785.0 855.0C782.8 861.7 780.0 869.2 777.0 875.0C774.0 880.8 770.7 885.5 767.0 890.0C763.3 894.5 759.0 898.7 755.0 902.0C751.0 905.3 747.2 908.1 743.0 910.0C738.8 911.9 734.2 913.2 730.0 913.5C725.8 913.8 722.2 913.1 718.0 912.0C713.8 910.9 708.8 908.8 705.0 907.0C701.2 905.2 698.3 903.3 695.0 901.0C691.7 898.7 688.0 896.2 685.0 893.0C682.0 889.8 679.5 885.8 677.0 882.0C674.5 878.2 671.2 872.0 670.0 870.0"/>
<path style="stroke:#444;stroke-width:0.95" class="k" d="M744.0 754.2C745.8 755.0 751.7 756.4 755.0 759.0C758.3 761.6 761.5 765.7 764.0 770.0C766.5 774.3 768.5 780.5 770.0 785.0C771.5 789.5 772.4 792.0 773.0 797.0C773.6 802.0 773.8 808.7 773.5 815.0C773.2 821.3 772.4 828.3 771.0 835.0C769.6 841.7 767.7 848.3 765.0 855.0C762.3 861.7 758.7 869.2 755.0 875.0C751.3 880.8 747.2 885.7 743.0 890.0C738.8 894.3 734.3 898.2 730.0 901.0C725.7 903.8 720.8 905.8 717.0 907.0C713.2 908.2 710.3 908.8 707.0 908.5C703.7 908.2 700.7 907.1 697.0 905.0C693.3 902.9 688.2 899.5 685.0 896.0C681.8 892.5 680.3 888.2 678.0 884.0C675.7 879.8 672.2 873.2 671.0 871.0"/>
<path class="l"  d="M744.0 754.2C742.7 754.8 739.2 754.9 736.0 757.5C732.8 760.1 728.5 764.9 725.0 770.0C721.5 775.1 717.7 783.0 715.0 788.0C712.3 793.0 711.5 794.7 709.0 800.0C706.5 805.3 703.0 813.8 700.0 820.0C697.0 826.2 693.7 832.0 691.0 837.0C688.3 842.0 687.5 844.5 684.0 850.0C680.5 855.5 674.8 864.5 670.0 870.0C665.2 875.5 659.5 879.9 655.0 883.0C650.5 886.1 646.8 887.5 643.0 888.5C639.2 889.5 635.8 889.4 632.0 889.0C628.2 888.6 624.2 887.3 620.0 886.0C615.8 884.7 610.7 883.7 607.0 881.0C603.3 878.3 600.2 874.3 598.0 870.0C595.8 865.7 594.8 860.8 594.0 855.0C593.2 849.2 592.5 842.0 593.0 835.0C593.5 828.0 596.3 816.7 597.0 813.0"/>
<path class="l"  d="M685.0 848.0C685.3 850.0 686.0 855.5 687.0 860.0C688.0 864.5 689.2 870.0 691.0 875.0C692.8 880.0 695.3 885.3 698.0 890.0C700.7 894.7 704.3 900.0 707.0 903.0C709.7 906.0 712.8 907.2 714.0 908.0"/>
<path class="l"  d="M736.0 758.0C737.2 760.8 741.0 769.7 743.0 775.0C745.0 780.3 746.8 785.8 748.0 790.0C749.2 794.2 749.8 796.7 750.5 800.0C751.2 803.3 751.9 805.8 752.0 810.0C752.1 814.2 751.8 819.7 751.0 825.0C750.2 830.3 748.2 837.8 747.0 842.0C745.8 846.2 744.5 848.7 744.0 850.0"/>
<path style="stroke:#383838;stroke-width:1.05" class="k" d="M698.0 685.0C698.8 686.7 701.7 690.8 703.0 695.0C704.3 699.2 705.4 705.0 706.0 710.0C706.6 715.0 706.8 719.2 706.5 725.0C706.2 730.8 705.6 738.3 704.5 745.0C703.4 751.7 701.8 758.3 700.0 765.0C698.2 771.7 695.8 779.2 694.0 785.0C692.2 790.8 691.2 795.0 689.0 800.0C686.8 805.0 683.7 810.0 681.0 815.0C678.3 820.0 676.7 824.0 673.0 830.0C669.3 836.0 664.2 844.3 659.0 851.0C653.8 857.7 647.7 864.8 642.0 870.0C636.3 875.2 629.7 879.6 625.0 882.0C620.3 884.4 616.8 884.4 614.0 884.3C611.2 884.2 609.0 882.0 608.0 881.6"/>
<path class="t"  d="M700.0 688.0C700.8 690.0 703.8 695.5 705.0 700.0C706.2 704.5 707.0 710.0 707.5 715.0C708.0 720.0 708.0 725.0 707.8 730.0C707.5 735.0 707.0 739.2 706.0 745.0C705.0 750.8 703.2 758.3 701.5 765.0C699.8 771.7 697.3 779.2 695.5 785.0C693.7 790.8 692.7 795.0 690.5 800.0C688.3 805.0 683.8 812.5 682.5 815.0"/>
<path style="stroke:#484848;stroke-width:0.85" class="k" d="M769.0 800.0C767.8 802.5 764.3 810.0 762.0 815.0C759.7 820.0 757.2 825.0 755.0 830.0C752.8 835.0 751.2 840.5 749.0 845.0C746.8 849.5 744.8 852.8 742.0 857.0C739.2 861.2 736.0 866.2 732.0 870.0C728.0 873.8 722.8 877.3 718.0 880.0C713.2 882.7 706.8 884.7 703.0 886.0C699.2 887.3 699.0 888.2 695.0 888.0C691.0 887.8 684.8 886.3 679.0 885.0C673.2 883.7 663.2 880.8 660.0 880.0"/>
<path class="t"  d="M767.5 800.0C766.3 802.5 762.8 810.0 760.5 815.0C758.2 820.0 755.7 825.0 753.5 830.0C751.3 835.0 749.7 840.7 747.5 845.0C745.3 849.3 743.4 852.2 740.5 856.0C737.6 859.8 733.9 864.3 730.0 868.0C726.1 871.7 719.2 876.3 717.0 878.0"/>
<path class="l"  d="M655.0 883.0C656.7 883.6 661.7 885.6 665.0 886.5C668.3 887.4 670.8 887.9 675.0 888.5C679.2 889.1 685.0 890.1 690.0 890.0C695.0 889.9 702.5 888.3 705.0 888.0"/>
<path class="l"  d="M620.0 883.0C619.5 882.2 618.0 881.0 617.0 878.0C616.0 875.0 614.4 869.2 614.0 865.0C613.6 860.8 613.7 856.5 614.5 853.0C615.3 849.5 616.8 847.0 619.0 844.0C621.2 841.0 625.2 836.8 628.0 835.0C630.8 833.2 633.2 832.7 636.0 833.0C638.8 833.3 642.2 835.0 645.0 837.0C647.8 839.0 650.8 842.6 653.0 845.0C655.2 847.4 657.6 850.4 658.5 851.5"/>
<path class="l" d="M667 709V774"/>
<path class="l"  d="M667.0 709.0C667.7 708.0 668.8 704.5 671.0 703.0C673.2 701.5 676.5 700.8 680.0 700.0C683.5 699.2 688.2 698.8 692.0 698.5C695.8 698.2 701.2 698.1 703.0 698.0"/>
<path class="t"  d="M669.0 705.0C670.0 704.2 672.5 701.7 675.0 700.5C677.5 699.3 680.7 698.6 684.0 698.0C687.3 697.4 691.8 696.9 695.0 696.6C698.2 696.4 701.7 696.5 703.0 696.5"/>
<path class="l" d="M644 713L667 711"/>
<path class="l"  d="M649.0 701.5C650.2 700.4 652.8 697.0 656.0 695.0C659.2 693.0 663.5 691.0 668.0 689.5C672.5 688.0 678.0 686.8 683.0 686.0C688.0 685.2 695.5 685.2 698.0 685.0"/>
<path class="t"  d="M652.0 700.0C653.3 699.0 656.7 695.8 660.0 694.0C663.3 692.2 667.8 690.6 672.0 689.5C676.2 688.4 680.8 687.8 685.0 687.5C689.2 687.2 695.0 687.5 697.0 687.5"/>
<path class="t"  d="M664.0 691.0C665.7 690.2 670.3 687.3 674.0 686.0C677.7 684.7 682.2 683.6 686.0 683.0C689.8 682.4 695.2 682.6 697.0 682.5"/>
<path class="l"  d="M689.0 682.0C689.8 682.2 692.5 682.5 694.0 683.0C695.5 683.5 697.3 684.7 698.0 685.0"/>
<path style="stroke:#484848;stroke-width:0.85" class="k" d="M667.0 774.0C667.5 773.2 668.5 770.3 670.0 769.0C671.5 767.7 673.5 766.8 676.0 766.0C678.5 765.2 682.2 764.5 685.0 764.0C687.8 763.5 690.5 763.5 693.0 763.3C695.5 763.1 698.8 763.0 700.0 763.0"/>
<path style="stroke:#484848;stroke-width:0.85" class="k" d="M667.0 774.0C667.2 774.7 667.5 776.8 668.5 778.0C669.5 779.2 671.1 780.5 673.0 781.5C674.9 782.5 677.7 783.4 680.0 784.0C682.3 784.6 684.7 784.8 687.0 785.0C689.3 785.2 692.8 785.0 694.0 785.0"/>
<path class="t"  d="M669.5 774.5C670.0 773.8 670.9 771.7 672.5 770.5C674.1 769.3 676.6 768.2 679.0 767.5C681.4 766.8 683.7 766.6 687.0 766.3C690.3 766.0 697.0 765.9 699.0 765.8"/>
<path class="t"  d="M669.5 774.5C669.8 775.1 670.4 777.0 671.5 778.0C672.6 779.0 674.1 779.8 676.0 780.5C677.9 781.2 680.7 782.1 683.0 782.5C685.3 782.9 688.0 783.0 690.0 783.0C692.0 783.0 694.2 782.6 695.0 782.5"/>
<path class="t"  d="M685.0 769.0C686.2 768.9 689.8 768.6 692.0 768.5C694.2 768.4 697.0 768.5 698.0 768.5"/>
<path class="t" d="M685 764.500V769"/>
<path class="t" d="M683.500 785.500L682 800L681 812"/>
</g>
</svg>
</body></html>
